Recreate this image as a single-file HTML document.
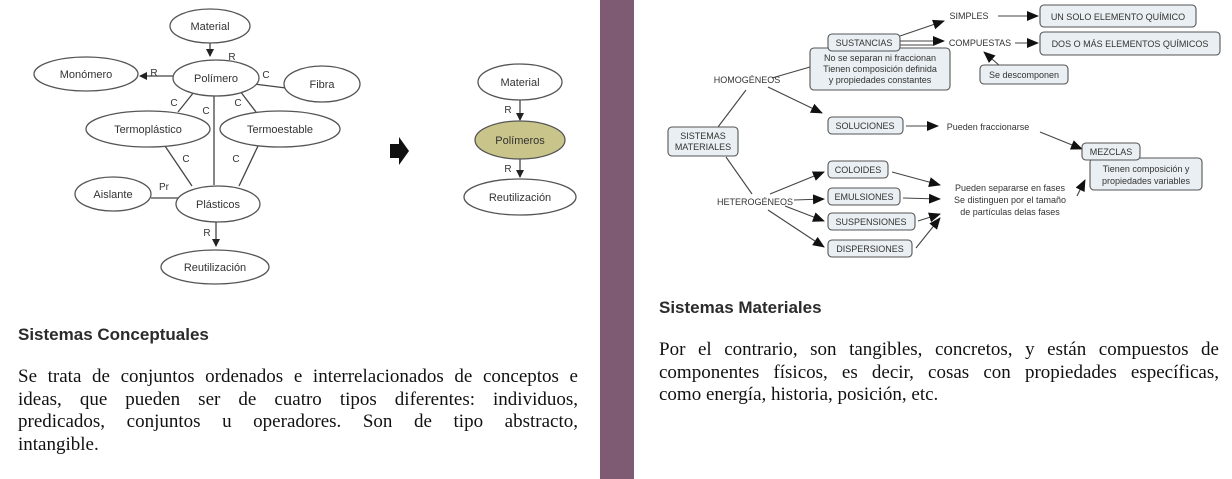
<!DOCTYPE html>
<html><head><meta charset="utf-8"><style>
body{margin:0;width:1232px;height:479px;background:#fff;position:relative;overflow:hidden}
svg{position:absolute;left:0;top:0}
.bar{position:absolute;left:600px;top:0;width:34px;height:479px;background:#7f5a73}
h3{position:absolute;margin:0;font:bold 17px "Liberation Sans",sans-serif;color:#2b2b2b}
p{position:absolute;margin:0;font:19px/22.7px "Liberation Serif",serif;color:#111;white-space:nowrap}
p span{display:block;text-align:justify;text-align-last:justify}
p span.l{text-align-last:left}
</style></head><body>
<svg width="1232" height="479" viewBox="0 0 1232 479" font-family="Liberation Sans, sans-serif">
<defs>
<marker id="a" markerWidth="8" markerHeight="8" refX="7" refY="4" orient="auto" markerUnits="userSpaceOnUse"><path d="M0,0L8,4L0,8z" fill="#222"/></marker>
<marker id="b" markerWidth="12" markerHeight="10" refX="11" refY="5" orient="auto" markerUnits="userSpaceOnUse"><path d="M0,0L12,5L0,10z" fill="#111"/></marker>
</defs>
<g stroke="#444" stroke-width="1.3" fill="none">
<line x1="210" y1="43" x2="210" y2="56" marker-end="url(#a)"/>
<line x1="173" y1="76" x2="140" y2="76" marker-end="url(#a)"/>
<line x1="254" y1="84" x2="286" y2="88"/>
<line x1="194" y1="92" x2="178" y2="112"/>
<line x1="214" y1="94" x2="214" y2="185"/>
<line x1="240" y1="91" x2="256" y2="112"/>
<line x1="165" y1="146" x2="192" y2="186"/>
<line x1="258" y1="146" x2="239" y2="186"/>
<line x1="151" y1="198" x2="178" y2="198"/>
<line x1="216" y1="221" x2="216" y2="246" marker-end="url(#a)"/>
<line x1="520" y1="100" x2="520" y2="120" marker-end="url(#a)"/>
<line x1="520" y1="159" x2="520" y2="177" marker-end="url(#a)"/>
</g>
<g stroke="#555" stroke-width="1.3" fill="#fff">
<ellipse cx="210" cy="26" rx="40" ry="17"/>
<ellipse cx="216" cy="78" rx="43" ry="18"/>
<ellipse cx="86" cy="74" rx="52" ry="17"/>
<ellipse cx="322" cy="84" rx="38" ry="18"/>
<ellipse cx="148" cy="129" rx="62" ry="18"/>
<ellipse cx="280" cy="129" rx="60" ry="18"/>
<ellipse cx="113" cy="194" rx="38" ry="17"/>
<ellipse cx="218" cy="204" rx="42" ry="18"/>
<ellipse cx="215" cy="267" rx="54" ry="17"/>
<ellipse cx="520" cy="82" rx="42" ry="18"/>
<ellipse cx="520" cy="140" rx="45" ry="19" fill="#c9c48a"/>
<ellipse cx="520" cy="197" rx="56" ry="18"/>
</g>
<g font-size="11" fill="#333" text-anchor="middle">
<text x="210" y="30">Material</text><text x="216" y="82">Polímero</text>
<text x="86" y="78">Monómero</text><text x="322" y="88">Fibra</text>
<text x="148" y="133">Termoplástico</text><text x="280" y="133">Termoestable</text>
<text x="113" y="198">Aislante</text><text x="218" y="208">Plásticos</text>
<text x="215" y="271">Reutilización</text>
<text x="520" y="86">Material</text><text x="520" y="144">Polímeros</text><text x="520" y="201">Reutilización</text>
<text x="232" y="60" font-size="10">R</text><text x="154" y="76" font-size="10">R</text>
<text x="266" y="78" font-size="10">C</text><text x="174" y="106" font-size="10">C</text>
<text x="206" y="114" font-size="10">C</text><text x="238" y="106" font-size="10">C</text>
<text x="186" y="162" font-size="10">C</text><text x="236" y="162" font-size="10">C</text>
<text x="164" y="190" font-size="10">Pr</text><text x="207" y="236" font-size="10">R</text>
<text x="508" y="113" font-size="10">R</text><text x="508" y="172" font-size="10">R</text>
</g>
<path d="M390,144h9v-7l10,14l-10,14v-7h-9z" fill="#111"/>

<g stroke="#444" stroke-width="1.1" fill="none">
<line x1="900" y1="36" x2="944" y2="21" marker-end="url(#b)"/>
<line x1="900" y1="41" x2="944" y2="41" marker-end="url(#b)"/>
<line x1="900" y1="45" x2="935" y2="45"/>
<line x1="998" y1="16" x2="1038" y2="16" marker-end="url(#b)"/>
<line x1="1015" y1="43" x2="1038" y2="43" marker-end="url(#b)"/>
<line x1="1000" y1="66" x2="984" y2="52" marker-end="url(#b)"/>
<line x1="772" y1="78" x2="810" y2="67"/>
<line x1="768" y1="87" x2="822" y2="113" marker-end="url(#b)"/>
<line x1="906" y1="126" x2="938" y2="126" marker-end="url(#b)"/>
<line x1="1040" y1="132" x2="1082" y2="149" marker-end="url(#b)"/>
<line x1="718" y1="127" x2="746" y2="90"/>
<line x1="726" y1="157" x2="752" y2="194"/>
<line x1="770" y1="194" x2="824" y2="172" marker-end="url(#b)"/>
<line x1="794" y1="200" x2="824" y2="199" marker-end="url(#b)"/>
<line x1="785" y1="206" x2="824" y2="221" marker-end="url(#b)"/>
<line x1="768" y1="210" x2="824" y2="247" marker-end="url(#b)"/>
<line x1="892" y1="172" x2="940" y2="185" marker-end="url(#b)"/>
<line x1="903" y1="198" x2="940" y2="199" marker-end="url(#b)"/>
<line x1="918" y1="221" x2="940" y2="214" marker-end="url(#b)"/>
<line x1="916" y1="248" x2="940" y2="218" marker-end="url(#b)"/>
<line x1="1077" y1="196" x2="1085" y2="180" marker-end="url(#b)"/>
</g>
<g stroke="#555" stroke-width="1.1" fill="#e9eff2">
<rect x="1040" y="5" width="156" height="22" rx="4"/>
<rect x="1040" y="32" width="180" height="23" rx="4"/>
<rect x="810" y="48" width="140" height="42" rx="4"/>
<rect x="828" y="34" width="72" height="17" rx="4"/>
<rect x="980" y="65" width="88" height="19" rx="4"/>
<rect x="828" y="117" width="75" height="17" rx="4"/>
<rect x="1090" y="158" width="112" height="32" rx="4"/>
<rect x="1082" y="143" width="58" height="17" rx="4"/>
<rect x="668" y="127" width="70" height="29" rx="4"/>
<rect x="828" y="161" width="60" height="17" rx="4"/>
<rect x="828" y="188" width="72" height="17" rx="4"/>
<rect x="828" y="213" width="87" height="17" rx="4"/>
<rect x="828" y="240" width="84" height="17" rx="4"/>
</g>
<g font-size="9" fill="#333" text-anchor="middle">
<text x="969" y="19">SIMPLES</text><text x="1118" y="20">UN SOLO ELEMENTO QUÍMICO</text>
<text x="864" y="46">SUSTANCIAS</text><text x="980" y="46">COMPUESTAS</text>
<text x="1130" y="47">DOS O MÁS ELEMENTOS QUÍMICOS</text>
<text x="880" y="61">No se separan ni fraccionan</text><text x="880" y="72">Tienen composición definida</text><text x="880" y="83">y propiedades constantes</text>
<text x="1024" y="78">Se descomponen</text>
<text x="747" y="83">HOMOGÉNEOS</text>
<text x="865" y="129">SOLUCIONES</text>
<text x="988" y="130">Pueden fraccionarse</text>
<text x="1111" y="155">MEZCLAS</text>
<text x="1146" y="172">Tienen composición y</text><text x="1146" y="184">propiedades variables</text>
<text x="703" y="139">SISTEMAS</text><text x="703" y="150">MATERIALES</text>
<text x="755" y="205">HETEROGÉNEOS</text>
<text x="858" y="173">COLOIDES</text><text x="864" y="200">EMULSIONES</text>
<text x="871" y="225">SUSPENSIONES</text><text x="870" y="252">DISPERSIONES</text>
<text x="1010" y="191">Pueden separarse en fases</text><text x="1010" y="203">Se distinguen por el tamaño</text><text x="1010" y="215">de partículas delas fases</text>
</g>
</svg>
<div class="bar"></div>
<h3 style="left:18px;top:325px">Sistemas Conceptuales</h3>
<p style="left:18px;top:366px;width:560px"><span>Se trata de conjuntos ordenados e interrelacionados de conceptos e</span><span>ideas, que pueden ser de cuatro tipos diferentes: individuos,</span><span>predicados, conjuntos u operadores. Son de tipo abstracto,</span><span class="l">intangible.</span></p>
<h3 style="left:659px;top:298px">Sistemas Materiales</h3>
<p style="left:659px;top:339px;width:560px"><span>Por el contrario, son tangibles, concretos, y están compuestos de</span><span>componentes físicos, es decir, cosas con propiedades específicas,</span><span class="l">como energía, historia, posición, etc.</span></p>
</body></html>
